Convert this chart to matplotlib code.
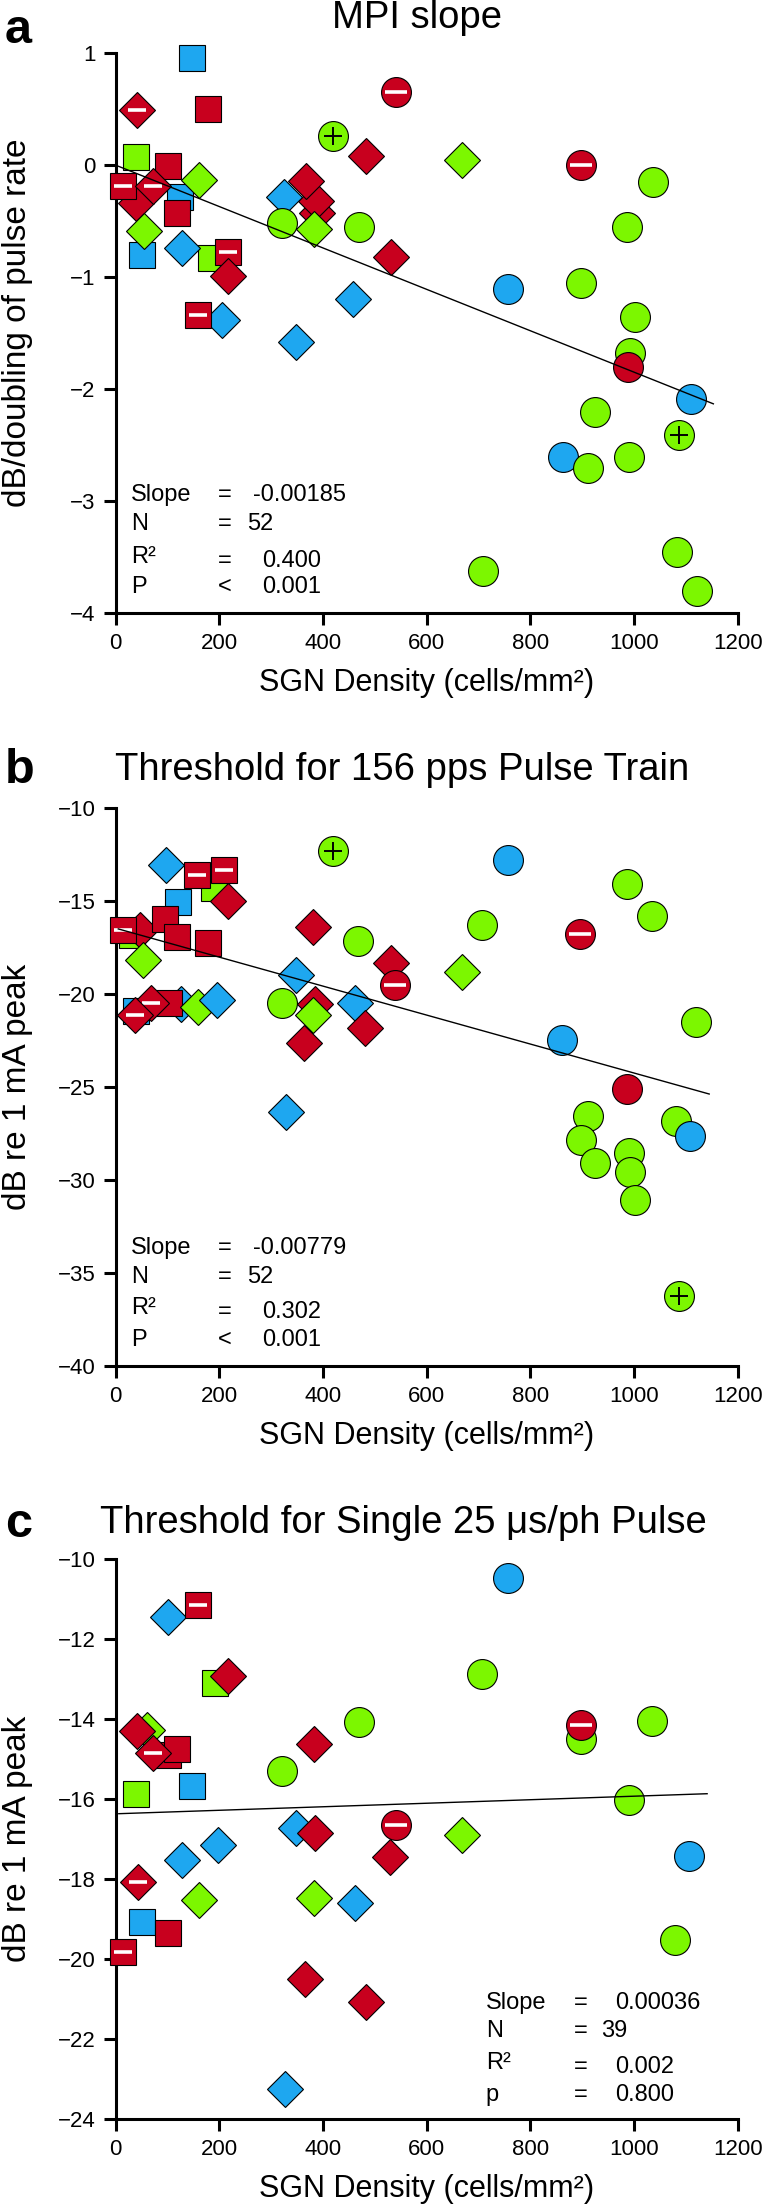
import matplotlib
matplotlib.use('Agg')
import matplotlib.pyplot as plt

RED, BLUE, GREEN = '#C8001E', '#1EA7F0', '#7CF700'
colors = {'r': RED, 'b': BLUE, 'g': GREEN}
NARROW = ['Liberation Sans Narrow', 'Liberation Sans']
REG = ['Liberation Sans', 'DejaVu Sans']

# ---- panel a: MPI slope ----
a_x = [125, 183, 388, 386, 367, 325, 321, 383, 147, 42, 179, 420, 483, 39, 100, 40, 119, 161,
       15, 71, 50, 55, 128, 216, 217, 206, 158, 348, 457, 470, 531, 541, 669, 897, 1036, 987,
       757, 898, 1001, 992, 989, 1110, 924, 1086, 862, 911, 990, 708, 1082, 1121]
a_y = [-0.28, -0.83, -0.43, -0.32, -0.14, -0.28, -0.52, -0.57, 0.96, 0.49, 0.50, 0.26, 0.08, 0.075,
       -0.01, -0.34, -0.43, -0.13, -0.19, -0.19, -0.80, -0.59, -0.74, -0.78, -0.99, -1.38, -1.34,
       -1.58, -1.20, -0.55, -0.82, 0.65, 0.05, 0.0, -0.15, -0.55, -1.11, -1.05, -1.36, -1.68, -1.80,
       -2.09, -2.21, -2.41, -2.61, -2.71, -2.61, -3.63, -3.46, -3.81]
a_col = list('bgrrrbggbrrgrgrrrgrrbgbrrbrbbgrrgrggbgggrbggbggggg')
a_shp = list('ssDDDDoDsDsoDssDsDsDsDDsDDsDDoDoDooooooooooooooooo')
a_sym = ['', '', '', '', '', '', '', '', '', '-', '', '+', '', '', '', '', '', '',
         '-', '-', '', '', '', '-', '', '', '-', '', '', '', '', '-', '', '-', '', '',
         '', '', '', '', '', '', '', '+', '', '', '', '', '', '']
a_fit = (-0.00185, 0.0, 5, 1153)
a_stats = [('Slope', '=', '-0.00185'), ('N', '=', '52'), ('R²', '=', '0.400'), ('P', '<', '0.001')]

# ---- panel b: threshold 156 pps ----
b_x = [40, 31, 190, 126, 47, 15, 98, 121, 96, 118, 179, 216, 156, 209, 53, 102, 69, 37, 158, 195,
       420, 381, 468, 348, 385, 381, 364, 321, 462, 481, 531, 539, 756, 986, 1035, 706, 896, 668,
       1120, 861, 987, 328, 912, 1080, 1108, 898, 924, 990, 992, 1002, 1086]
b_y = [-20.9, -16.8, -14.29, -20.54, -16.57, -16.52, -13.07, -15.04, -15.93, -16.91, -17.23, -15.0,
       -13.57, -13.30, -18.16, -20.45, -20.48, -21.1, -20.71, -20.32, -12.29, -16.39, -17.14, -18.98,
       -20.54, -21.1, -22.64, -20.5, -20.5, -21.84, -18.3, -19.5, -12.77, -14.07, -15.77, -16.30,
       -16.75, -18.8, -21.48, -22.46, -25.1, -26.34, -26.54, -26.84, -27.64, -27.82, -29.07, -28.54,
       -29.55, -31.07, -36.25]
b_col = list('bggbrrbbrr' 'rrrrgrrrgb' 'grgbrgrgbr' 'rrbgggrggb' 'rbggbgggggg')
b_shp = list('sssDDsDsss' 'sDssDsDDDD' 'oDoDDDDoDD' 'DooooooDoo' 'oDooooooooo')
b_sym = ['', '', '', '', '', '-', '', '', '', '', '', '', '-', '-', '', '', '-', '-', '', '',
         '+', '', '', '', '', '', '', '', '', '', '', '-', '', '', '', '', '-', '',
         '', '', '', '', '', '', '', '', '', '', '', '', '+']
b_fit = (-0.00779, -16.45, 5, 1145)
b_stats = [('Slope', '=', '-0.00779'), ('N', '=', '52'), ('R²', '=', '0.302'), ('P', '<', '0.001')]

# ---- panel c: single 25 us/ph pulse ----
c_x = [60, 100, 42, 118, 71, 39, 147, 100, 158, 192, 216, 321, 383, 469, 756, 707, 897, 897, 1035,
       991, 540, 668, 348, 385, 530, 1106, 128, 197, 43, 160, 382, 462, 51, 100, 15, 1079, 365,
       483, 326]
c_y = [-14.27, -14.9, -14.31, -14.75, -14.85, -15.87, -15.68, -11.46, -11.14, -13.1, -12.92, -15.31,
       -14.62, -14.08, -10.47, -12.88, -14.49, -14.14, -14.06, -16.03, -16.64, -16.89, -16.72, -16.85,
       -17.45, -17.43, -17.52, -17.14, -18.08, -18.52, -18.48, -18.6, -19.08, -19.35, -19.83, -19.53,
       -20.5, -21.08, -23.25]
c_col = list('grrrrgbbrgrgrgbggrggrgbrrbbbrggbbrrgrrb')
c_shp = list('DsDsDssDssDoDoooooooo' 'DDDDoDDDDDDsssoDDD')
c_sym = ['', '', '', '', '-', '', '', '', '-', '', '', '', '', '', '', '', '', '-', '',
         '', '-', '', '', '', '', '', '', '', '-', '', '', '', '', '', '-', '', '',
         '', '']
c_fit = (0.00044, -16.37, 6, 1141)
c_stats = [('Slope', '=', '0.00036'), ('N', '=', '39'), ('R²', '=', '0.002'), ('p', '=', '0.800')]

W, H = 768, 2205
fig = plt.figure(figsize=(W / 100, H / 100), dpi=100)


def fy(py):
    return 1 - py / H


def panel(top, bottom, xs, ys, cols, shps, syms, fit, ylim, yticks):
    ax = fig.add_axes([115.7 / W, fy(bottom), 622 / W, (bottom - top) / H])
    for i, (x, y, c, s, m) in enumerate(zip(xs, ys, cols, shps, syms)):
        z = 3 + i * 0.01
        ms = 21.5 if s == 'o' else 18.5
        ax.plot(x, y, marker=s, ms=ms, mfc=colors[c], mec='black', mew=0.8,
                ls='none', zorder=z, clip_on=False)
        if m == '-':
            ax.plot(x, y, marker='_', ms=ms * 0.72, mew=2.6, color='white', zorder=z + 0.005, clip_on=False)
        elif m == '+':
            ax.plot(x, y, marker='+', ms=ms * 0.62, mew=1.4, color='black', zorder=z + 0.005, clip_on=False)
    k, b0, x0, x1 = fit
    ax.plot([x0, x1], [b0 + k * x0, b0 + k * x1], color='black', lw=1.0, zorder=10)
    ax.set_xlim(0, 1200)
    ax.set_ylim(*ylim)
    ax.set_xticks(range(0, 1201, 200))
    ax.set_yticks(yticks)
    for sp in ['top', 'right']:
        ax.spines[sp].set_visible(False)
    for sp in ['left', 'bottom']:
        ax.spines[sp].set_linewidth(2.2)
        ax.spines[sp].set_zorder(2)
    ax.tick_params(direction='out', length=8.5, width=2.2, pad=6, labelsize=16)
    for lab in ax.get_xticklabels() + ax.get_yticklabels():
        lab.set_family(NARROW)
    fig.text(426.7 / W, fy(bottom + 70), 'SGN Density (cells/mm²)', ha='center', va='center',
             fontsize=22, family=NARROW)
    return ax


def stats(ax, rows, xs, ys):
    for (lab, eq, val), y in zip(rows, ys):
        dy = -0.007 if lab == 'R²' else 0
        ax.text(xs[0], y, lab, transform=ax.transAxes, va='center', fontsize=17, family=NARROW)
        ax.text(xs[1], y + dy, eq, transform=ax.transAxes, va='center', fontsize=17, family=NARROW)
        vx = xs[2] if val.startswith('-') or len(val) > 4 or '.' in val else xs[3]
        if lab in ('R²', 'P', 'p') and not val.startswith('-'):
            vx = xs[4]
        ax.text(vx, y + dy, val, transform=ax.transAxes, va='center', fontsize=17, family=NARROW)


# panel a
axa = panel(53.3, 612.7, a_x, a_y, a_col, a_shp, a_sym, a_fit, (-4, 1), range(-4, 2))
stats(axa, a_stats, [0.025, 0.165, 0.22, 0.212, 0.236], [0.21, 0.159, 0.1, 0.0465])
fig.text(5 / W, fy(43), 'a', fontsize=35, fontweight='bold', family=REG, va='baseline')
fig.text(417.5 / W, fy(28), 'MPI slope', fontsize=27.5, family=REG, ha='center', va='baseline')
fig.text(18 / W, fy(323), 'dB/doubling of pulse rate', rotation=90, ha='center', va='center',
         fontsize=24, family=NARROW)

# panel b
axb = panel(808.3, 1366, b_x, b_y, b_col, b_shp, b_sym, b_fit, (-40, -10), range(-40, -9, 5))
stats(axb, b_stats, [0.025, 0.165, 0.22, 0.212, 0.236], [0.211, 0.16, 0.104, 0.0466])
fig.text(5 / W, fy(783), 'b', fontsize=35, fontweight='bold', family=REG, va='baseline')
fig.text(402 / W, fy(780), 'Threshold for 156 pps Pulse Train', fontsize=27.5, family=REG,
         ha='center', va='baseline')
fig.text(18 / W, fy(1087), 'dB re 1 mA peak', rotation=90, ha='center', va='center',
         fontsize=24, family=NARROW)

# panel c
axc = panel(1559, 2119, c_x, c_y, c_col, c_shp, c_sym, c_fit, (-24, -10), range(-24, -9, 2))
stats(axc, c_stats, [0.595, 0.736, 0.803, 0.781, 0.803], [0.208, 0.157, 0.1, 0.0429])
fig.text(5 / W, fy(1537), 'c', fontsize=35, fontweight='bold', family=REG, va='baseline')
fig.text(403 / W, fy(1533), 'Threshold for Single 25 μs/ph Pulse', fontsize=27.5, family=REG,
         ha='center', va='baseline')
fig.text(18 / W, fy(1839), 'dB re 1 mA peak', rotation=90, ha='center', va='center',
         fontsize=24, family=NARROW)

fig.savefig('out.png', dpi=100)
